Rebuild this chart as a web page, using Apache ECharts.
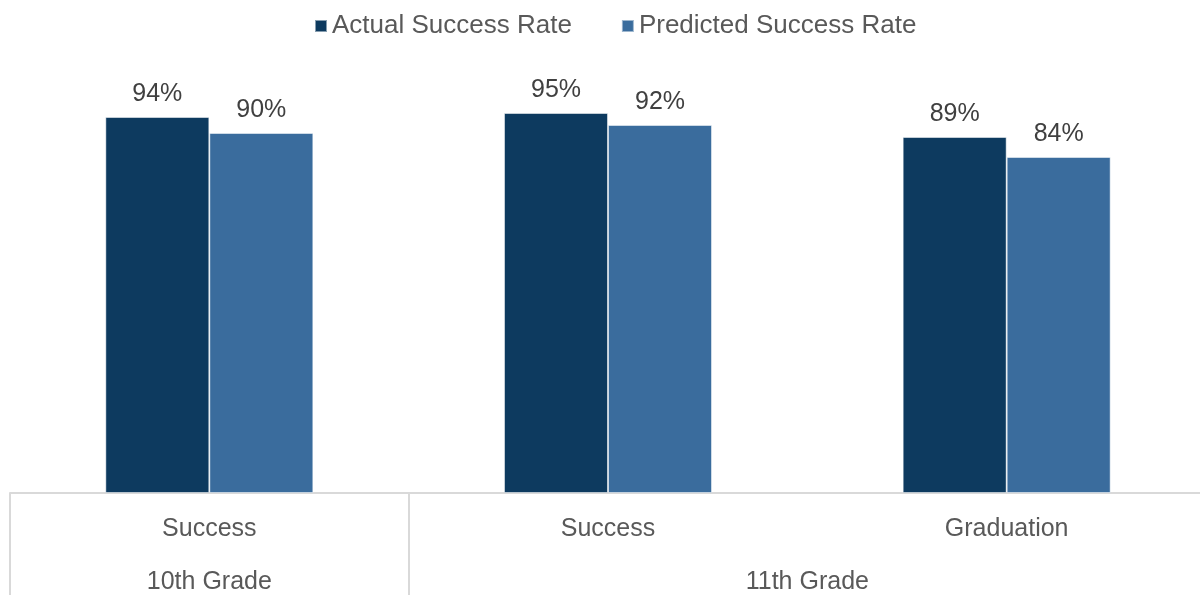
<!DOCTYPE html>
<html><head><meta charset="utf-8">
<script src="https://cdn.jsdelivr.net/npm/echarts@6/dist/echarts.min.js"></script>
<style>html,body{margin:0;padding:0;background:#fff}#c{width:1200px;height:595px}</style>
</head><body><div id="c"></div>
<script>
const categories = ["Success", "Success", "Graduation"];
const groups = ["10th Grade", "11th Grade"];
const groupSpans = [[0, 1], [1, 3]];
const actual = [94, 95, 89];
const predicted = [90, 92, 84];
const seriesNames = ["Actual Success Rate", "Predicted Success Rate"];

const FONT = "Liberation Sans";
const chart = echarts.init(document.getElementById('c'), null, {renderer: 'canvas'});
const groupLabelPos = groupSpans.map(s => (s[0] + s[1]) / 2);
const boundaries = [];
groupSpans.forEach(s => { boundaries.push(s[0]); boundaries.push(s[1]); });

chart.setOption({
  animation: false,
  legend: {
    top: 8, left: 309, itemWidth: 12, itemHeight: 12, itemGap: 49,
    icon: 'rect',
    textStyle: {fontFamily: FONT, fontSize: 26, color: '#595959'},
    data: seriesNames
  },
  grid: {left: 10, top: 93, width: 1196, height: 400, containLabel: false, outerBoundsMode: 'none'},
  xAxis: [{
    type: 'category', data: categories,
    axisLine: {show: true, lineStyle: {color: '#D9D9D9', width: 2}},
    axisTick: {show: false},
    axisLabel: {fontFamily: FONT, fontSize: 25, color: '#595959', margin: 24}
  }, {
    type: 'value', min: 0, max: categories.length, position: 'bottom',
    axisLine: {show: false}, splitLine: {show: false},
    axisTick: {show: true, customValues: boundaries, length: 104, inside: false, lineStyle: {color: '#D9D9D9', width: 2}},
    axisLabel: {show: true, customValues: groupLabelPos, margin: 77,
      fontFamily: FONT, fontSize: 25, color: '#595959',
      formatter: v => { const i = groupLabelPos.indexOf(v); return i >= 0 ? groups[i] : ''; }}
  }],
  yAxis: {type: 'value', min: 0, max: 100, show: false},
  series: [{
    name: seriesNames[0], type: 'bar', data: actual, barWidth: 104, barGap: '0%',
    itemStyle: {color: '#0D3A5F', borderColor: 'rgba(255,255,255,0.5)', borderWidth: 1},
    label: {show: true, position: 'top', distance: 10, formatter: '{c}%', fontFamily: FONT, fontSize: 25, color: '#404040'}
  }, {
    name: seriesNames[1], type: 'bar', data: predicted, barWidth: 104, barGap: '0%',
    itemStyle: {color: '#3A6C9D', borderColor: 'rgba(255,255,255,0.5)', borderWidth: 1},
    label: {show: true, position: 'top', distance: 10, formatter: '{c}%', fontFamily: FONT, fontSize: 25, color: '#404040'}
  }]
});
</script></body></html>
